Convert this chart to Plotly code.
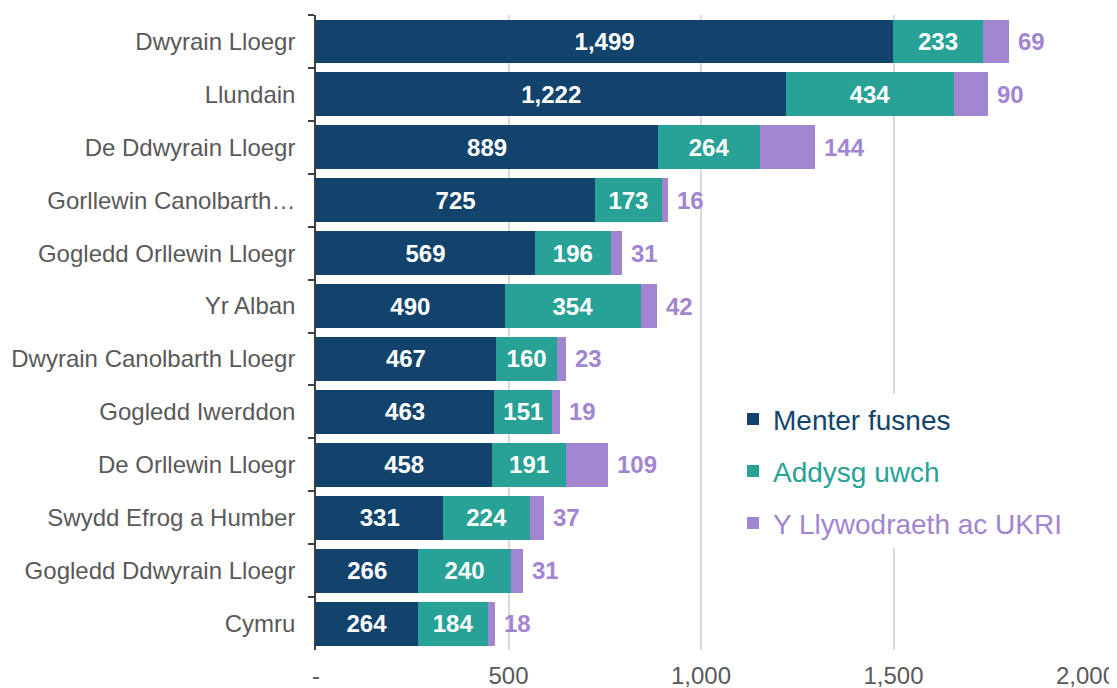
import plotly.graph_objects as go

regions = ["Dwyrain Lloegr", "Llundain", "De Ddwyrain Lloegr", "Gorllewin Canolbarth…",
           "Gogledd Orllewin Lloegr", "Yr Alban", "Dwyrain Canolbarth Lloegr", "Gogledd Iwerddon",
           "De Orllewin Lloegr", "Swydd Efrog a Humber", "Gogledd Ddwyrain Lloegr", "Cymru"]
menter_fusnes = [1499, 1222, 889, 725, 569, 490, 467, 463, 458, 331, 266, 264]
addysg_uwch = [233, 434, 264, 173, 196, 354, 160, 151, 191, 224, 240, 184]
llywodraeth_ukri = [69, 90, 144, 16, 31, 42, 23, 19, 109, 37, 31, 18]
x_tick_vals = [0, 500, 1000, 1500, 2000]
x_tick_text = ["-", "500", "1,000", "1,500", "2,000"]

NAVY = "#12436D"
TEAL = "#28A197"
PURPLE = "#A285D1"
GREY = "#595959"
FONT = "Liberation Sans, Arial, sans-serif"

fig = go.Figure()
series = [("Menter fusnes", menter_fusnes, NAVY, True),
          ("Addysg uwch", addysg_uwch, TEAL, True),
          ("Y Llywodraeth ac UKRI", llywodraeth_ukri, PURPLE, False)]
for i, (name, vals, col, show_text) in enumerate(series):
    fig.add_trace(go.Bar(
        y=regions, x=vals, orientation="h",
        name=f"<span style='color:{col}'>{name}</span>",
        legendgroup=f"g{i}",
        marker=dict(color=col, line=dict(width=0)),
        text=[f"{v:,}" for v in vals] if show_text else None,
        textposition="inside" if show_text else "none",
        insidetextanchor="middle",
        textfont=dict(color="white", size=24, family=FONT, weight="bold"),
        constraintext="none",
        hoverinfo="x+y",
    ))

totals = [a + b + c for a, b, c in zip(menter_fusnes, addysg_uwch, llywodraeth_ukri)]
for reg, tot, v in zip(regions, totals, llywodraeth_ukri):
    fig.add_annotation(x=tot, y=reg, text=f"{v:,}", showarrow=False,
                       xanchor="left", xshift=7,
                       font=dict(color=PURPLE, size=24, family=FONT, weight="bold"))

fig.update_layout(
    width=1109, height=680,
    margin=dict(l=308, r=31, t=7, b=38, autoexpand=False),
    barmode="stack", bargap=0.17,
    plot_bgcolor="white", paper_bgcolor="white",
    font=dict(family=FONT, size=24, color=GREY),
    showlegend=True,
    legend=dict(x=0.5416, y=0.4025, xanchor="left", yanchor="top",
                bgcolor="white", font=dict(size=28, family=FONT),
                traceorder="grouped", tracegroupgap=12.5),
    xaxis=dict(range=[0, 2000], tickvals=x_tick_vals, ticktext=x_tick_text,
               automargin=False,
               showgrid=True, gridcolor="#D9D9D9", gridwidth=1.5, zeroline=False,
               showline=False, ticks="outside", ticklen=4, tickcolor="rgba(0,0,0,0)",
               tickfont=dict(size=24, color=GREY, family=FONT)),
    yaxis=dict(autorange="reversed", automargin=False,
               showline=True, linecolor="#404040", linewidth=1.5,
               ticks="outside", tickson="boundaries", ticklen=6, tickcolor="#404040",
               tickwidth=1.5, ticklabelstandoff=14, showgrid=False,
               tickfont=dict(size=24, color=GREY, family=FONT)),
)

fig.write_html("out.html")
